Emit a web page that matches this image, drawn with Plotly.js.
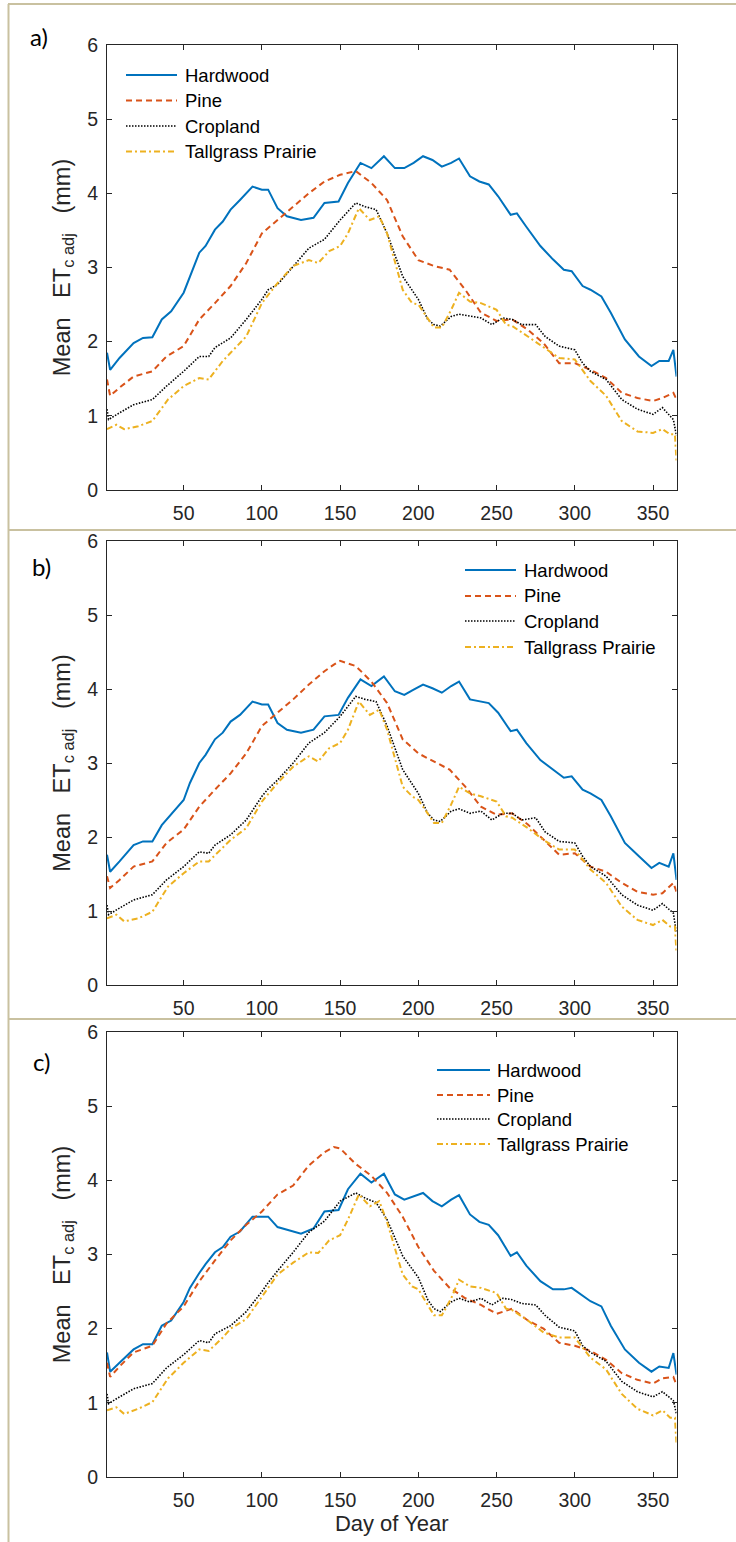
<!DOCTYPE html>
<html>
<head>
<meta charset="utf-8">
<script src="https://cdn.plot.ly/plotly-3.0.1.min.js"></script>
<style>html,body{margin:0;padding:0;background:#fff;}#chart{width:736px;height:1542px;}</style>
</head>
<body>
<div id="chart"></div>
<script>
// ---------------- DATA ----------------
const seriesNames = ["Hardwood", "Pine", "Cropland", "Tallgrass Prairie"];
const panelLabels = ["a)", "b)", "c)"];
const xTickVals = [50, 100, 150, 200, 250, 300, 350];
const yTickVals = [0, 1, 2, 3, 4, 5, 6];

const hwDays = [1,3,9,18,24,30,36,42,50,54,60,64,70,75,80,86,94,100,104,110,116,125,133,140,149,155,163,170,178,185,191,197,203,209,215,221,226,233,239,245,251,259,263,269,278,286,293,298,305,310,317,323,332,341,349,354,360,363,365];
const hwA = [1.85,1.62,1.78,1.98,2.05,2.06,2.30,2.41,2.66,2.88,3.20,3.29,3.51,3.62,3.78,3.91,4.09,4.05,4.05,3.80,3.69,3.64,3.67,3.87,3.89,4.14,4.41,4.34,4.50,4.34,4.34,4.41,4.50,4.45,4.36,4.41,4.47,4.23,4.16,4.12,3.96,3.71,3.73,3.55,3.29,3.11,2.97,2.95,2.75,2.70,2.61,2.39,2.03,1.80,1.67,1.74,1.74,1.89,1.53];
const hwB = [1.76,1.53,1.67,1.89,1.94,1.94,2.16,2.30,2.50,2.73,3.00,3.11,3.32,3.41,3.56,3.65,3.83,3.79,3.79,3.54,3.45,3.41,3.45,3.63,3.65,3.88,4.13,4.04,4.17,3.97,3.92,3.99,4.06,4.01,3.95,4.04,4.10,3.86,3.83,3.81,3.68,3.43,3.45,3.27,3.04,2.91,2.80,2.82,2.64,2.59,2.50,2.28,1.92,1.74,1.58,1.65,1.60,1.78,1.42];
const hwC = [1.68,1.42,1.54,1.72,1.79,1.79,2.04,2.11,2.36,2.55,2.75,2.87,3.03,3.10,3.24,3.31,3.51,3.51,3.51,3.37,3.33,3.28,3.35,3.58,3.60,3.88,4.09,3.97,4.09,3.81,3.74,3.79,3.83,3.72,3.65,3.74,3.80,3.54,3.44,3.40,3.26,2.98,3.03,2.85,2.64,2.53,2.53,2.55,2.45,2.37,2.30,2.04,1.72,1.54,1.42,1.49,1.47,1.67,1.38];

const pineDays = [1,3,9,18,30,39,50,60,70,80,90,100,110,120,130,140,146,150,160,170,180,190,200,210,220,230,240,250,260,270,280,290,300,310,320,330,340,350,356,363,365];
const pineA = [1.49,1.27,1.38,1.53,1.60,1.80,1.94,2.30,2.52,2.75,3.06,3.46,3.64,3.82,4.00,4.16,4.22,4.25,4.30,4.14,3.91,3.42,3.10,3.02,2.97,2.70,2.39,2.28,2.30,2.16,1.98,1.71,1.71,1.62,1.51,1.31,1.24,1.20,1.24,1.31,1.22];
const pineB = [1.47,1.31,1.42,1.60,1.67,1.92,2.10,2.41,2.64,2.86,3.13,3.50,3.68,3.86,4.06,4.24,4.33,4.38,4.31,4.10,3.81,3.32,3.13,3.02,2.91,2.68,2.41,2.30,2.32,2.17,1.96,1.76,1.78,1.60,1.53,1.38,1.26,1.22,1.24,1.38,1.26];
const pineC = [1.54,1.35,1.49,1.68,1.77,2.07,2.30,2.64,2.92,3.19,3.40,3.58,3.81,3.93,4.20,4.38,4.45,4.43,4.22,4.06,3.83,3.51,3.10,2.78,2.55,2.41,2.32,2.20,2.27,2.11,2.00,1.81,1.77,1.70,1.58,1.40,1.31,1.26,1.33,1.35,1.24];

const cropDays = [1,2,9,18,30,39,50,60,66,70,80,90,100,104,110,120,130,140,150,160,166,173,180,190,200,206,210,214,221,226,233,240,247,254,260,266,275,281,290,300,305,310,320,330,340,350,356,363,365];
const cropA = [1.09,0.95,1.04,1.15,1.22,1.40,1.60,1.80,1.80,1.92,2.05,2.30,2.57,2.70,2.77,3.02,3.26,3.38,3.64,3.87,3.82,3.78,3.46,2.88,2.57,2.30,2.23,2.21,2.34,2.37,2.34,2.32,2.23,2.32,2.30,2.23,2.23,2.07,1.94,1.89,1.71,1.60,1.49,1.22,1.09,1.02,1.11,0.95,0.73];
const cropB = [1.08,0.95,1.04,1.15,1.22,1.42,1.60,1.80,1.78,1.89,2.03,2.23,2.55,2.65,2.77,3.00,3.27,3.41,3.63,3.90,3.86,3.83,3.50,2.91,2.59,2.32,2.23,2.21,2.35,2.38,2.32,2.35,2.23,2.32,2.32,2.23,2.26,2.07,1.94,1.92,1.74,1.60,1.47,1.22,1.08,1.01,1.10,0.97,0.70];
const cropC = [1.12,0.99,1.08,1.19,1.26,1.47,1.65,1.84,1.81,1.93,2.04,2.23,2.50,2.62,2.78,3.03,3.30,3.45,3.72,3.83,3.76,3.70,3.47,2.98,2.69,2.39,2.27,2.23,2.36,2.41,2.36,2.41,2.32,2.41,2.39,2.34,2.32,2.18,2.02,1.97,1.77,1.68,1.56,1.29,1.15,1.08,1.15,1.03,0.85];

const tallDays = [1,7,12,21,30,40,50,60,66,75,80,90,100,110,120,130,136,143,150,155,162,169,175,180,190,196,200,205,210,215,221,226,233,240,250,256,260,270,280,290,300,310,320,330,340,350,356,361,364,365];
const tallA = [0.82,0.88,0.82,0.86,0.93,1.22,1.40,1.51,1.49,1.74,1.85,2.07,2.52,2.79,3.02,3.10,3.06,3.22,3.29,3.46,3.80,3.64,3.69,3.46,2.70,2.52,2.50,2.34,2.19,2.19,2.43,2.66,2.54,2.52,2.43,2.23,2.21,2.07,1.92,1.78,1.76,1.47,1.27,0.93,0.79,0.77,0.82,0.75,0.75,0.39];
const tallB = [0.90,0.95,0.86,0.90,0.99,1.33,1.51,1.67,1.67,1.85,1.96,2.12,2.48,2.73,2.95,3.09,3.02,3.20,3.27,3.45,3.83,3.65,3.72,3.45,2.68,2.55,2.50,2.35,2.19,2.19,2.44,2.68,2.59,2.55,2.48,2.28,2.26,2.12,1.96,1.83,1.83,1.56,1.38,1.06,0.88,0.81,0.88,0.79,0.79,0.43];
const tallC = [0.90,0.94,0.85,0.92,1.01,1.33,1.54,1.72,1.70,1.88,2.00,2.13,2.43,2.73,2.89,3.03,3.02,3.19,3.26,3.47,3.81,3.65,3.72,3.44,2.73,2.57,2.53,2.36,2.18,2.18,2.41,2.66,2.57,2.55,2.48,2.27,2.25,2.11,1.95,1.88,1.88,1.61,1.45,1.12,0.92,0.83,0.90,0.80,0.80,0.44];

// ---------------- STYLE / LAYOUT ----------------
const W = 736, H = 1542;
const fx = x => x / W;
const fy = y => 1 - y / H;
const AX = '#262626';
const FONT = 'Liberation Sans, Arial, Helvetica, sans-serif';

const styles = [
  {color: '#0072BD', width: 2, dash: 'solid'},
  {color: '#D95319', width: 2, dash: '6px,4px'},
  {color: '#000000', width: 1.6, dash: '1.5px,1.5px'},
  {color: '#EDB120', width: 2, dash: '6px,3px,2px,3px'}
];

const panels = [
  {days: [hwDays, pineDays, cropDays, tallDays], vals: [hwA, pineA, cropA, tallA], top: 45, bottom: 490,
   label: {x: 39, y: 36}, leg: {x0: 126, x1: 177, tx: 183, rows: [75, 100.5, 126, 151.5]}},
  {days: [hwDays, pineDays, cropDays, tallDays], vals: [hwB, pineB, cropB, tallB], top: 541, bottom: 985,
   label: {x: 41, y: 566}, leg: {x0: 465, x1: 516, tx: 522, rows: [570, 596, 621, 647]}},
  {days: [hwDays, pineDays, cropDays, tallDays], vals: [hwC, pineC, cropC, tallC], top: 1032, bottom: 1477,
   label: {x: 41, y: 1061}, leg: {x0: 437, x1: 490, tx: 495, rows: [1070, 1095, 1119, 1144]}}
];

const plotLeft = 107, plotRight = 676.5;
const traces = [];
const shapes = [];
const annotations = [];
const layout = {
  width: W, height: H,
  margin: {l: 0, r: 0, t: 0, b: 0},
  paper_bgcolor: '#ffffff', plot_bgcolor: '#ffffff',
  font: {family: FONT, color: AX, size: 19},
  showlegend: false
};

panels.forEach((p, i) => {
  const n = i === 0 ? '' : String(i + 1);
  for (let s = 0; s < 4; s++) {
    traces.push({
      type: 'scatter', mode: 'lines', name: seriesNames[s],
      x: p.days[s], y: p.vals[s],
      xaxis: 'x' + n, yaxis: 'y' + n,
      line: {color: styles[s].color, width: styles[s].width, dash: styles[s].dash},
      showlegend: false, hoverinfo: 'skip'
    });
  }
  const xa = {
    domain: [fx(plotLeft), fx(plotRight)], anchor: 'y' + n,
    range: [1, 365], tickmode: 'array', tickvals: xTickVals,
    ticks: 'inside', ticklen: 5, tickwidth: 1, tickcolor: AX,
    showline: true, linecolor: AX, linewidth: 1, mirror: 'ticks',
    showgrid: false, zeroline: false,
    tickfont: {family: FONT, size: 19.5, color: AX}, ticklabelstandoff: 6
  };
  if (i === 2) xa.title = {text: 'Day of Year', font: {family: FONT, size: 22, color: AX}, standoff: 4};
  layout['xaxis' + n] = xa;
  layout['yaxis' + n] = {
    domain: [fy(p.bottom), fy(p.top)], anchor: 'x' + n,
    range: [0, 6], tickmode: 'array', tickvals: yTickVals,
    ticks: 'inside', ticklen: 5, tickwidth: 1, tickcolor: AX,
    showline: true, linecolor: AX, linewidth: 1, mirror: 'ticks',
    showgrid: false, zeroline: false,
    tickfont: {family: FONT, size: 19.5, color: AX}, ticklabelstandoff: 4,
    title: {text: 'Mean   ET<sub>c adj</sub>   (mm)', font: {family: FONT, size: 23.5, color: AX}, standoff: 10}
  };
  // panel label
  annotations.push({
    xref: 'paper', yref: 'paper', x: fx(p.label.x), y: fy(p.label.y),
    xanchor: 'center', yanchor: 'middle', showarrow: false,
    text: panelLabels[i], font: {family: 'Lato, Open Sans, sans-serif', size: 24, color: '#000'}
  });
  // legend
  for (let s = 0; s < 4; s++) {
    const yy = fy(p.leg.rows[s]);
    shapes.push({type: 'line', xref: 'paper', yref: 'paper', x0: fx(p.leg.x0), x1: fx(p.leg.x1), y0: yy, y1: yy,
      line: {color: styles[s].color, width: styles[s].width, dash: styles[s].dash}});
    annotations.push({xref: 'paper', yref: 'paper', x: fx(p.leg.tx), y: yy, xanchor: 'left', yanchor: 'middle',
      showarrow: false, text: seriesNames[s], font: {family: FONT, size: 18.5, color: '#000'}});
  }
});

// frame lines (tan)
const FR = '#c9c1a0';
shapes.push({type: 'line', xref: 'paper', yref: 'paper', x0: fx(8), x1: 1, y0: fy(4), y1: fy(4), line: {color: FR, width: 2}});
shapes.push({type: 'line', xref: 'paper', yref: 'paper', x0: fx(8.5), x1: fx(8.5), y0: 0, y1: fy(4), line: {color: FR, width: 2}});
shapes.push({type: 'line', xref: 'paper', yref: 'paper', x0: fx(8), x1: 1, y0: fy(530), y1: fy(530), line: {color: FR, width: 2}});
shapes.push({type: 'line', xref: 'paper', yref: 'paper', x0: fx(8), x1: 1, y0: fy(1019), y1: fy(1019), line: {color: FR, width: 2}});

layout.shapes = shapes;
layout.annotations = annotations;

Plotly.newPlot('chart', traces, layout, {staticPlot: true, displayModeBar: false});
</script>
</body>
</html>
